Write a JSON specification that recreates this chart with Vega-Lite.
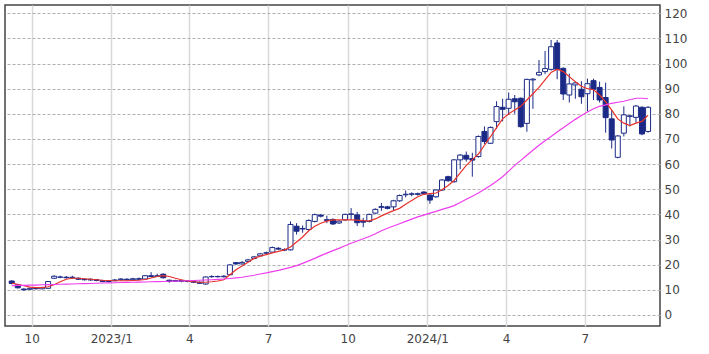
{
  "$schema": "https://vega.github.io/schema/vega-lite/v6.json",
  "width": 655,
  "height": 321,
  "padding": {"left": 5, "top": 5, "right": 5, "bottom": 5},
  "background": "white",
  "config": {
    "view": {"stroke": "#444444", "strokeWidth": 1.5},
    "font": "DejaVu Sans",
    "axisY": {
      "title": null,
      "orient": "right",
      "values": [0, 10, 20, 30, 40, 50, 60, 70, 80, 90, 100, 110, 120],
      "ticks": false,
      "domain": false,
      "grid": true,
      "gridColor": "#b0b0b0",
      "gridDash": [3, 2],
      "gridWidth": 1,
      "labelFont": "DejaVu Sans",
      "labelFontSize": 12,
      "labelColor": "#444444",
      "labelPadding": 4,
      "labelOverlap": false
    }
  },
  "data": {"values": [
    {"d":"2022-09-08","o":13.5,"h":13.8,"l":12.2,"c":12.5,"m1":12.6,"m2":11.7},
    {"d":"2022-09-15","o":12.0,"h":12.3,"l":10.5,"c":10.8,"m1":12.2,"m2":11.75},
    {"d":"2022-09-22","o":10.3,"h":10.6,"l":9.7,"c":10.0,"m1":11.6,"m2":11.8},
    {"d":"2022-09-29","o":10.2,"h":10.9,"l":10.0,"c":10.6,"m1":11.1,"m2":11.85},
    {"d":"2022-10-06","o":10.6,"h":11.0,"l":10.2,"c":10.4,"m1":10.9,"m2":11.9},
    {"d":"2022-10-13","o":10.4,"h":11.2,"l":10.2,"c":10.9,"m1":10.9,"m2":12.0},
    {"d":"2022-10-20","o":10.6,"h":13.5,"l":10.4,"c":13.3,"m1":11.2,"m2":12.05},
    {"d":"2022-10-27","o":14.6,"h":15.8,"l":14.3,"c":15.4,"m1":12.0,"m2":12.1},
    {"d":"2022-11-03","o":15.0,"h":15.6,"l":14.6,"c":15.1,"m1":13.2,"m2":12.2},
    {"d":"2022-11-10","o":15.0,"h":15.5,"l":14.5,"c":14.8,"m1":14.2,"m2":12.25},
    {"d":"2022-11-17","o":14.8,"h":15.6,"l":14.3,"c":15.0,"m1":14.6,"m2":12.3},
    {"d":"2022-11-24","o":14.6,"h":14.9,"l":13.9,"c":14.2,"m1":14.6,"m2":12.4},
    {"d":"2022-12-01","o":14.2,"h":14.5,"l":13.7,"c":14.0,"m1":14.4,"m2":12.45},
    {"d":"2022-12-08","o":13.9,"h":14.5,"l":13.6,"c":14.2,"m1":14.2,"m2":12.5},
    {"d":"2022-12-15","o":14.0,"h":14.3,"l":13.4,"c":13.7,"m1":14.0,"m2":12.6},
    {"d":"2022-12-22","o":13.6,"h":14.0,"l":13.0,"c":13.3,"m1":13.8,"m2":12.7},
    {"d":"2022-12-29","o":13.3,"h":13.8,"l":13.0,"c":13.5,"m1":13.7,"m2":12.75},
    {"d":"2023-01-05","o":13.6,"h":14.3,"l":13.4,"c":13.9,"m1":13.6,"m2":12.8},
    {"d":"2023-01-12","o":14.0,"h":14.6,"l":13.7,"c":14.3,"m1":13.6,"m2":12.9},
    {"d":"2023-01-19","o":14.2,"h":14.6,"l":13.8,"c":14.0,"m1":13.6,"m2":12.95},
    {"d":"2023-01-26","o":14.0,"h":14.8,"l":13.8,"c":14.4,"m1":13.7,"m2":13.0},
    {"d":"2023-02-02","o":14.4,"h":14.9,"l":13.9,"c":14.2,"m1":13.8,"m2":13.05},
    {"d":"2023-02-09","o":14.3,"h":15.9,"l":14.1,"c":15.6,"m1":14.1,"m2":13.1},
    {"d":"2023-02-16","o":15.6,"h":17.0,"l":15.0,"c":15.3,"m1":14.7,"m2":13.2},
    {"d":"2023-02-23","o":15.3,"h":16.4,"l":15.1,"c":15.6,"m1":15.3,"m2":13.25},
    {"d":"2023-03-02","o":16.2,"h":16.6,"l":14.5,"c":14.8,"m1":15.6,"m2":13.3},
    {"d":"2023-03-09","o":13.8,"h":14.1,"l":12.8,"c":13.3,"m1":15.3,"m2":13.4},
    {"d":"2023-03-16","o":13.4,"h":14.0,"l":13.1,"c":13.7,"m1":14.6,"m2":13.45},
    {"d":"2023-03-23","o":13.7,"h":14.0,"l":13.0,"c":13.4,"m1":14.0,"m2":13.5},
    {"d":"2023-03-30","o":13.3,"h":13.8,"l":13.0,"c":13.5,"m1":13.5,"m2":13.6},
    {"d":"2023-04-06","o":13.4,"h":13.7,"l":12.7,"c":13.0,"m1":13.2,"m2":13.7},
    {"d":"2023-04-13","o":13.0,"h":13.3,"l":12.3,"c":12.6,"m1":13.0,"m2":13.8},
    {"d":"2023-04-20","o":12.3,"h":15.3,"l":12.0,"c":15.1,"m1":13.0,"m2":13.9},
    {"d":"2023-04-27","o":15.2,"h":15.8,"l":14.8,"c":15.3,"m1":13.2,"m2":14.0},
    {"d":"2023-05-04","o":15.3,"h":15.7,"l":14.9,"c":15.2,"m1":13.5,"m2":14.15},
    {"d":"2023-05-11","o":15.2,"h":15.8,"l":14.9,"c":15.4,"m1":14.0,"m2":14.3},
    {"d":"2023-05-18","o":16.0,"h":20.2,"l":15.8,"c":19.9,"m1":16.0,"m2":14.5},
    {"d":"2023-05-25","o":20.8,"h":21.0,"l":19.9,"c":20.3,"m1":18.0,"m2":14.75},
    {"d":"2023-06-01","o":20.3,"h":21.4,"l":20.0,"c":20.9,"m1":19.5,"m2":15.0},
    {"d":"2023-06-08","o":21.3,"h":22.3,"l":21.0,"c":21.9,"m1":21.0,"m2":15.4},
    {"d":"2023-06-15","o":22.5,"h":23.5,"l":22.2,"c":23.1,"m1":22.5,"m2":15.8},
    {"d":"2023-06-22","o":23.5,"h":24.7,"l":23.2,"c":24.3,"m1":23.4,"m2":16.3},
    {"d":"2023-06-29","o":24.7,"h":25.2,"l":24.1,"c":24.6,"m1":24.0,"m2":16.7},
    {"d":"2023-07-06","o":25.0,"h":27.2,"l":24.8,"c":26.8,"m1":24.7,"m2":17.2},
    {"d":"2023-07-13","o":26.5,"h":27.0,"l":25.8,"c":26.2,"m1":25.3,"m2":17.7},
    {"d":"2023-07-20","o":26.0,"h":26.5,"l":25.4,"c":25.8,"m1":25.9,"m2":18.3},
    {"d":"2023-07-27","o":25.9,"h":37.2,"l":25.6,"c":36.0,"m1":27.0,"m2":18.9},
    {"d":"2023-08-03","o":35.3,"h":36.5,"l":32.0,"c":33.3,"m1":29.0,"m2":19.6},
    {"d":"2023-08-10","o":34.4,"h":35.6,"l":32.7,"c":34.2,"m1":31.0,"m2":20.5},
    {"d":"2023-08-17","o":34.0,"h":38.0,"l":33.5,"c":37.6,"m1":33.5,"m2":21.5},
    {"d":"2023-08-24","o":37.2,"h":40.3,"l":36.8,"c":39.9,"m1":35.3,"m2":22.5},
    {"d":"2023-08-31","o":39.7,"h":40.2,"l":38.8,"c":39.3,"m1":36.5,"m2":23.6},
    {"d":"2023-09-07","o":37.9,"h":39.5,"l":36.5,"c":37.6,"m1":37.3,"m2":24.6},
    {"d":"2023-09-14","o":38.0,"h":38.4,"l":35.8,"c":36.2,"m1":37.8,"m2":25.6},
    {"d":"2023-09-21","o":36.6,"h":37.7,"l":36.2,"c":37.3,"m1":37.8,"m2":26.5},
    {"d":"2023-09-28","o":37.8,"h":40.3,"l":37.5,"c":40.0,"m1":37.8,"m2":27.5},
    {"d":"2023-10-05","o":40.0,"h":42.5,"l":37.8,"c":40.2,"m1":37.8,"m2":28.5},
    {"d":"2023-10-12","o":39.8,"h":41.0,"l":35.4,"c":36.7,"m1":37.7,"m2":29.4},
    {"d":"2023-10-19","o":37.4,"h":38.6,"l":34.9,"c":36.9,"m1":37.5,"m2":30.3},
    {"d":"2023-10-26","o":37.2,"h":40.3,"l":36.8,"c":40.0,"m1":37.4,"m2":31.2},
    {"d":"2023-11-02","o":40.5,"h":42.4,"l":40.2,"c":42.0,"m1":38.2,"m2":32.3},
    {"d":"2023-11-09","o":42.8,"h":44.5,"l":41.4,"c":43.1,"m1":39.4,"m2":33.5},
    {"d":"2023-11-16","o":43.0,"h":43.4,"l":42.0,"c":42.4,"m1":40.5,"m2":34.5},
    {"d":"2023-11-23","o":43.0,"h":45.8,"l":41.3,"c":45.4,"m1":41.5,"m2":35.4},
    {"d":"2023-11-30","o":45.4,"h":47.9,"l":45.0,"c":47.5,"m1":42.4,"m2":36.3},
    {"d":"2023-12-07","o":47.8,"h":49.5,"l":46.8,"c":48.0,"m1":44.0,"m2":37.2},
    {"d":"2023-12-14","o":48.0,"h":48.8,"l":47.2,"c":48.2,"m1":45.5,"m2":38.1},
    {"d":"2023-12-21","o":48.2,"h":48.7,"l":47.5,"c":48.0,"m1":47.0,"m2":39.0},
    {"d":"2023-12-28","o":48.9,"h":49.2,"l":47.8,"c":48.2,"m1":48.0,"m2":39.7},
    {"d":"2024-01-04","o":47.7,"h":48.0,"l":44.2,"c":45.7,"m1":48.3,"m2":40.5},
    {"d":"2024-01-11","o":47.0,"h":50.0,"l":46.6,"c":49.7,"m1":48.5,"m2":41.2},
    {"d":"2024-01-18","o":49.7,"h":54.0,"l":49.4,"c":53.7,"m1":49.8,"m2":42.0},
    {"d":"2024-01-25","o":55.0,"h":55.4,"l":53.0,"c":53.4,"m1":51.5,"m2":42.7},
    {"d":"2024-02-01","o":53.0,"h":62.0,"l":52.6,"c":61.7,"m1":53.5,"m2":43.5},
    {"d":"2024-02-08","o":61.7,"h":64.0,"l":58.0,"c":63.6,"m1":56.5,"m2":44.7},
    {"d":"2024-02-15","o":63.5,"h":65.0,"l":61.0,"c":62.0,"m1":59.5,"m2":46.0},
    {"d":"2024-02-22","o":62.2,"h":64.5,"l":55.0,"c":61.6,"m1":61.8,"m2":47.2},
    {"d":"2024-02-29","o":63.0,"h":71.4,"l":62.6,"c":71.0,"m1":64.0,"m2":48.5},
    {"d":"2024-03-07","o":73.0,"h":75.0,"l":68.0,"c":69.0,"m1":67.5,"m2":50.0},
    {"d":"2024-03-14","o":68.3,"h":75.0,"l":68.0,"c":74.6,"m1":70.9,"m2":51.5},
    {"d":"2024-03-21","o":76.9,"h":85.0,"l":74.0,"c":82.9,"m1":74.5,"m2":53.2},
    {"d":"2024-03-28","o":82.6,"h":86.0,"l":77.0,"c":81.8,"m1":78.0,"m2":55.0},
    {"d":"2024-04-04","o":82.2,"h":88.5,"l":79.5,"c":85.8,"m1":80.0,"m2":57.2},
    {"d":"2024-04-11","o":86.0,"h":87.5,"l":80.0,"c":84.8,"m1":81.5,"m2":59.5},
    {"d":"2024-04-18","o":86.2,"h":86.5,"l":74.5,"c":74.9,"m1":83.0,"m2":61.5},
    {"d":"2024-04-25","o":76.2,"h":94.0,"l":72.9,"c":93.7,"m1":85.5,"m2":63.5},
    {"d":"2024-05-02","o":93.5,"h":94.2,"l":82.0,"c":93.8,"m1":88.0,"m2":65.5},
    {"d":"2024-05-09","o":95.5,"h":101.4,"l":95.0,"c":96.5,"m1":90.5,"m2":67.5},
    {"d":"2024-05-16","o":96.8,"h":105.0,"l":95.8,"c":98.0,"m1":93.5,"m2":69.3},
    {"d":"2024-05-23","o":97.7,"h":109.4,"l":97.2,"c":106.7,"m1":96.5,"m2":71.0},
    {"d":"2024-05-30","o":108.2,"h":109.4,"l":93.8,"c":97.7,"m1":97.8,"m2":72.8},
    {"d":"2024-06-06","o":98.1,"h":98.5,"l":85.5,"c":87.9,"m1":96.8,"m2":74.5},
    {"d":"2024-06-13","o":87.5,"h":96.0,"l":84.5,"c":91.9,"m1":94.8,"m2":76.2},
    {"d":"2024-06-20","o":91.5,"h":92.8,"l":86.0,"c":92.3,"m1":92.8,"m2":77.8},
    {"d":"2024-06-27","o":89.8,"h":93.0,"l":84.0,"c":86.8,"m1":91.0,"m2":79.3},
    {"d":"2024-07-04","o":88.0,"h":94.0,"l":81.0,"c":92.0,"m1":90.0,"m2":80.7},
    {"d":"2024-07-11","o":93.2,"h":94.0,"l":85.5,"c":89.8,"m1":89.6,"m2":82.0},
    {"d":"2024-07-18","o":90.5,"h":92.8,"l":84.5,"c":85.5,"m1":87.5,"m2":83.0},
    {"d":"2024-07-25","o":86.5,"h":92.4,"l":72.5,"c":78.5,"m1":84.8,"m2":83.6},
    {"d":"2024-08-01","o":78.0,"h":81.5,"l":66.2,"c":69.6,"m1":81.5,"m2":84.2},
    {"d":"2024-08-08","o":62.7,"h":71.5,"l":62.3,"c":71.2,"m1":78.0,"m2":84.6},
    {"d":"2024-08-15","o":72.3,"h":83.0,"l":71.0,"c":79.6,"m1":76.3,"m2":85.0},
    {"d":"2024-08-22","o":79.0,"h":79.5,"l":75.0,"c":79.2,"m1":75.3,"m2":85.6},
    {"d":"2024-08-29","o":78.6,"h":83.5,"l":76.5,"c":83.1,"m1":76.3,"m2":86.2},
    {"d":"2024-09-05","o":82.6,"h":83.0,"l":71.5,"c":72.0,"m1":77.0,"m2":86.2},
    {"d":"2024-09-12","o":73.0,"h":83.0,"l":72.5,"c":82.6,"m1":79.5,"m2":86.0}
  ]},
  "encoding": {
    "x": {
      "field": "d",
      "type": "temporal",
      "scale": {
        "type": "utc",
        "domain": [
          {"year": 2022, "month": 9, "date": 6, "utc": true},
          {"year": 2024, "month": 9, "date": 20, "utc": true}
        ]
      },
      "axis": {
        "title": null,
        "values": [
          {"year": 2022, "month": 10, "date": 1, "utc": true},
          {"year": 2023, "month": 1, "date": 1, "utc": true},
          {"year": 2023, "month": 4, "date": 1, "utc": true},
          {"year": 2023, "month": 7, "date": 1, "utc": true},
          {"year": 2023, "month": 10, "date": 1, "utc": true},
          {"year": 2024, "month": 1, "date": 1, "utc": true},
          {"year": 2024, "month": 4, "date": 1, "utc": true},
          {"year": 2024, "month": 7, "date": 1, "utc": true}
        ],
        "labelExpr": "utcmonth(datum.value) == 0 ? utcyear(datum.value) + '/1' : '' + (utcmonth(datum.value) + 1)",
        "ticks": false,
        "domain": false,
        "grid": true,
        "gridColor": "#d9d9d9",
        "gridWidth": 1.5,
        "labelFont": "DejaVu Sans",
        "labelFontSize": 12,
        "labelColor": "#444444",
        "labelPadding": 7,
        "labelFlush": false,
        "labelOverlap": false
      }
    }
  },
  "layer": [
    {
      "mark": {"type": "rule", "color": "#1b2a86", "strokeWidth": 1, "clip": true},
      "encoding": {
        "y": {
          "field": "l",
          "type": "quantitative",
          "scale": {"domain": [-4.4, 123.3], "nice": false, "zero": false},
          "axis": {"values": [0, 10, 20, 30, 40, 50, 60, 70, 80, 90, 100, 110, 120], "labelOverlap": false}
        },
        "y2": {"field": "h"}
      }
    },
    {
      "mark": {"type": "bar", "size": 5, "stroke": "#1b2a86", "strokeWidth": 1, "clip": true},
      "encoding": {
        "y": {"field": "o", "type": "quantitative", "axis": {"values": [0, 10, 20, 30, 40, 50, 60, 70, 80, 90, 100, 110, 120], "labelOverlap": false}},
        "y2": {"field": "c"},
        "fill": {
          "condition": {"test": "datum.c >= datum.o", "value": "white"},
          "value": "#1b2a86"
        }
      }
    },
    {
      "mark": {"type": "line", "color": "#e8322b", "strokeWidth": 1.2, "clip": true},
      "encoding": {"y": {"field": "m1", "type": "quantitative", "axis": {"values": [0, 10, 20, 30, 40, 50, 60, 70, 80, 90, 100, 110, 120], "labelOverlap": false}}}
    },
    {
      "mark": {"type": "line", "color": "#ee3cee", "strokeWidth": 1.2, "clip": true},
      "encoding": {"y": {"field": "m2", "type": "quantitative", "axis": {"values": [0, 10, 20, 30, 40, 50, 60, 70, 80, 90, 100, 110, 120], "labelOverlap": false}}}
    }
  ]
}
